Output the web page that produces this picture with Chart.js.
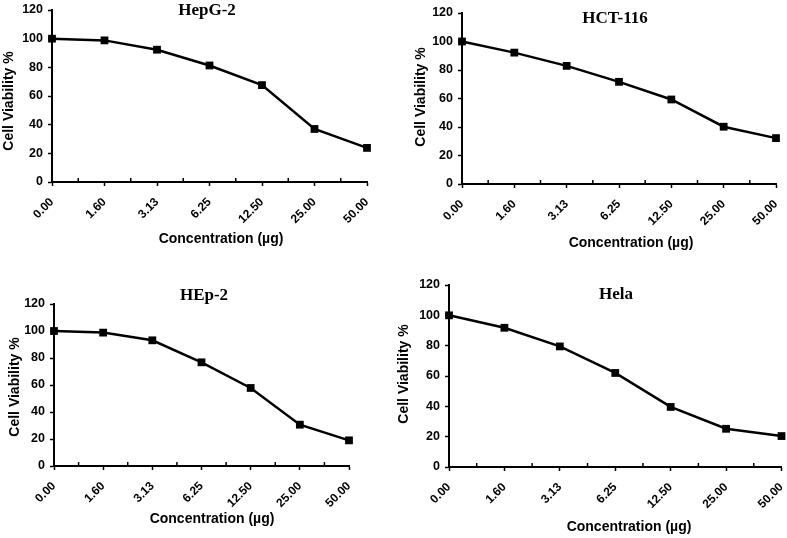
<!DOCTYPE html>
<html>
<head>
<meta charset="utf-8">
<script src="https://cdn.jsdelivr.net/npm/chart.js@4.4.1/dist/chart.umd.min.js"></script>
<style>
    html, body { margin: 0; padding: 0; background: #fff; }
    #page { position: relative; width: 787px; height: 538px; overflow: hidden; }
    .panel { position: absolute; }
</style>
</head>
<body>
<div id="page">
    <div class="panel" style="left:0;top:0;width:394px;height:269px"><canvas id="hepg2"></canvas></div>
    <div class="panel" style="left:394px;top:0;width:393px;height:269px"><canvas id="hct116"></canvas></div>
    <div class="panel" style="left:0;top:269px;width:394px;height:269px"><canvas id="hep2"></canvas></div>
    <div class="panel" style="left:394px;top:269px;width:393px;height:269px"><canvas id="hela"></canvas></div>
</div>
<script>
const concentrations = ['0.00', '1.60', '3.13', '6.25', '12.50', '25.00', '50.00'];
const hepg2Viability = [100, 98.8, 92.3, 81.3, 67.6, 37.0, 23.8];
const hct116Viability = [100, 92.2, 82.9, 71.7, 59.3, 40.2, 32.2];
const hep2Viability = [100, 98.8, 93.1, 76.8, 57.8, 30.6, 19.0];
const helaViability = [100, 91.8, 79.5, 62.0, 39.6, 25.2, 20.4];
const yMin = 0;
const yMax = 120;
const yStep = 20;

const sansBold = "bold 14px 'Liberation Sans', Arial, sans-serif";
const serifBold = "bold 17px 'Liberation Serif', 'Times New Roman', serif";

// titles + small inward ticks between categories
const panelText = {
    id: 'panelText',
    afterDraw(chart, args, opts) {
        const ctx = chart.ctx;
        const xScale = chart.scales.x;
        const bottom = chart.chartArea.bottom;

        ctx.save();
        ctx.strokeStyle = '#000';
        ctx.lineWidth = 1.5;
        for (let i = 0; i < concentrations.length - 1; i++) {
            const px = (xScale.getPixelForValue(i) + xScale.getPixelForValue(i + 1)) / 2;
            ctx.beginPath();
            ctx.moveTo(px, bottom);
            ctx.lineTo(px, bottom - 4);
            ctx.stroke();
        }

        ctx.fillStyle = '#000';
        ctx.textAlign = 'center';
        ctx.textBaseline = 'middle';

        ctx.font = serifBold;
        ctx.fillText(opts.title, opts.titlePos[0], opts.titlePos[1]);

        ctx.font = sansBold;
        ctx.fillText('Concentration (µg)', opts.xTitlePos[0], opts.xTitlePos[1]);

        ctx.translate(opts.yTitlePos[0], opts.yTitlePos[1]);
        ctx.rotate(-Math.PI / 2);
        ctx.fillText('Cell Viability %', 0, 0);
        ctx.restore();
    }
};

function makePanel(canvasId, values, layout) {
    const canvas = document.getElementById(canvasId);

    new Chart(canvas.getContext('2d'), {
        type: 'line',
        data: {
            labels: concentrations,
            datasets: [{
                data: values,
                borderColor: '#000',
                borderWidth: 2.5,
                tension: 0,
                pointStyle: 'rect',
                pointRadius: 5.5,
                pointBackgroundColor: '#000',
                pointBorderColor: '#000',
                pointBorderWidth: 0,
                clip: false
            }]
        },
        options: {
            responsive: true,
            maintainAspectRatio: false,
            animation: false,
            devicePixelRatio: 1,
            layout: { padding: layout.padding },
            plugins: {
                legend: { display: false },
                tooltip: { enabled: false },
                panelText: layout.text
            },
            scales: {
                x: {
                    type: 'category',
                    offset: false,
                    afterFit: scale => {
                        scale.height = layout.xHeight;
                        scale.paddingLeft = 0;
                        scale.paddingRight = 0;
                    },
                    border: { display: true, color: '#000', width: 2 },
                    grid: {
                        drawOnChartArea: false,
                        drawTicks: true,
                        tickLength: 4,
                        tickColor: '#000',
                        tickWidth: 1.5,
                        offset: false
                    },
                    ticks: {
                        autoSkip: false,
                        minRotation: 45,
                        maxRotation: 45,
                        padding: 9,
                        color: '#000',
                        font: { family: "'Liberation Sans', Arial, sans-serif", size: 12, weight: 'bold' }
                    }
                },
                y: {
                    min: yMin,
                    max: yMax,
                    afterFit: scale => {
                        scale.width = 40;
                        scale.paddingTop = 0;
                        scale.paddingBottom = 0;
                    },
                    border: { display: true, color: '#000', width: 2 },
                    grid: {
                        drawOnChartArea: false,
                        drawTicks: true,
                        tickLength: 4,
                        tickColor: '#000',
                        tickWidth: 1.5
                    },
                    ticks: {
                        stepSize: yStep,
                        padding: 5,
                        color: '#000',
                        font: { family: "'Liberation Sans', Arial, sans-serif", size: 12.5, weight: 'bold' }
                    }
                }
            }
        },
        plugins: [panelText]
    });
}

document.addEventListener("DOMContentLoaded", () => {
    makePanel('hepg2', hepg2Viability, {
        padding: { left: 12, right: 27, top: 10, bottom: 0 },
        xHeight: 87,
        text: { title: 'HepG-2', titlePos: [207, 11], yTitlePos: [9, 101], xTitlePos: [221, 239] }
    });
    makePanel('hct116', hct116Viability, {
        padding: { left: 28, right: 11, top: 13, bottom: 0 },
        xHeight: 85,
        text: { title: 'HCT-116', titlePos: [221, 19], yTitlePos: [27, 97], xTitlePos: [237, 243] }
    });
    makePanel('hep2', hep2Viability, {
        padding: { left: 14, right: 45, top: 35, bottom: 0 },
        xHeight: 72,
        text: { title: 'HEp-2', titlePos: [204, 27], yTitlePos: [15, 118], xTitlePos: [212, 250] }
    });
    makePanel('hela', helaViability, {
        padding: { left: 15, right: 5, top: 16, bottom: 0 },
        xHeight: 71,
        text: { title: 'Hela', titlePos: [222, 26], yTitlePos: [10, 105], xTitlePos: [235, 258] }
    });
});
</script>
</body>
</html>
